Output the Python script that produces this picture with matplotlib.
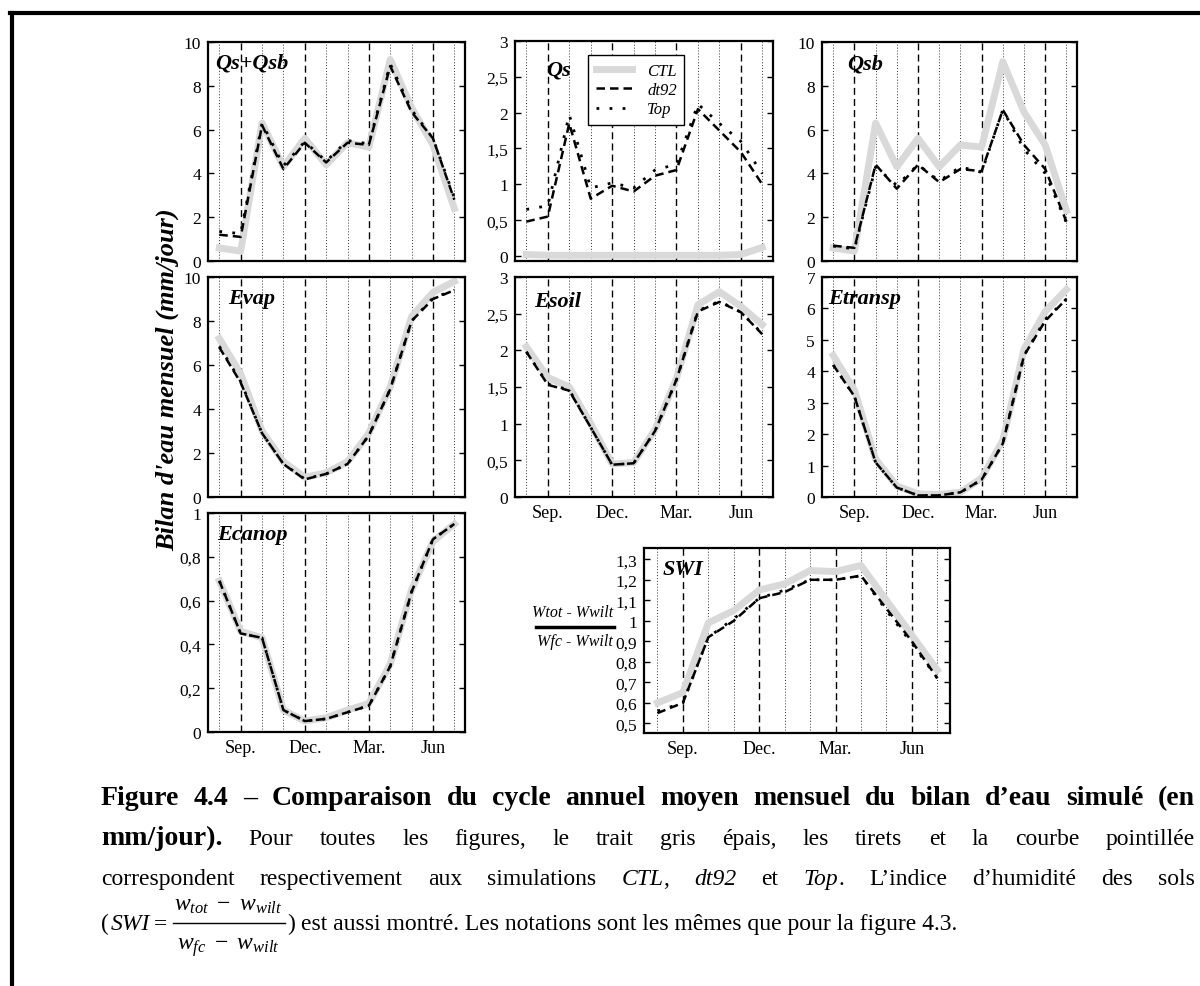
import numpy as np
import matplotlib
matplotlib.use('Agg')
import matplotlib.pyplot as plt
from matplotlib.lines import Line2D
from matplotlib.ticker import FuncFormatter

plt.rcParams['font.family'] = ['Liberation Serif', 'DejaVu Serif']
plt.rcParams['mathtext.fontset'] = 'custom'
plt.rcParams['mathtext.rm'] = 'Liberation Serif'
plt.rcParams['mathtext.it'] = 'Liberation Serif:italic'
plt.rcParams['mathtext.bf'] = 'Liberation Serif:bold'

# mois aout -> juillet
months = ['Aug', 'Sep', 'Oct', 'Nov', 'Dec', 'Jan', 'Feb', 'Mar', 'Apr', 'May', 'Jun', 'Jul']
quarter_pos = [1, 4, 7, 10]
quarter_labels = ['Sep.', 'Dec.', 'Mar.', 'Jun']

qsqsb_ctl = [0.6, 0.45, 6.3, 4.3, 5.6, 4.4, 5.4, 5.2, 9.2, 7.0, 5.3, 2.4]
qsqsb_dt92 = [1.2, 1.1, 6.2, 4.2, 5.4, 4.5, 5.4, 5.3, 8.9, 6.8, 5.6, 2.8]
qsqsb_top = [1.35, 1.25, 6.3, 4.35, 5.45, 4.55, 5.5, 5.35, 9.0, 6.9, 5.6, 2.9]

qs_ctl = [0.02, 0.01, 0.01, 0.01, 0.01, 0.01, 0.01, 0.01, 0.01, 0.01, 0.02, 0.12]
qs_dt92 = [0.48, 0.55, 1.85, 0.8, 0.98, 0.9, 1.12, 1.2, 2.05, 1.75, 1.45, 1.0]
qs_top = [0.65, 0.7, 1.97, 0.95, 1.02, 0.95, 1.2, 1.28, 2.12, 1.85, 1.6, 1.15]

qsb_ctl = [0.6, 0.45, 6.3, 4.3, 5.6, 4.3, 5.3, 5.2, 9.1, 6.8, 5.3, 2.3]
qsb_dt92 = [0.7, 0.6, 4.4, 3.3, 4.4, 3.6, 4.2, 4.1, 6.9, 5.3, 4.2, 1.8]
qsb_top = [0.68, 0.55, 4.3, 3.45, 4.4, 3.65, 4.3, 4.05, 6.9, 5.1, 4.0, 1.75]

evap_ctl = [7.2, 5.6, 3.0, 1.6, 0.9, 1.1, 1.6, 2.9, 5.0, 8.2, 9.3, 9.8]
evap_dt92 = [6.8, 5.2, 2.9, 1.5, 0.8, 1.05, 1.5, 2.8, 4.9, 8.0, 9.0, 9.4]
evap_top = [6.85, 5.25, 2.9, 1.5, 0.82, 1.05, 1.5, 2.8, 4.9, 8.0, 9.05, 9.4]

esoil_ctl = [2.05, 1.63, 1.5, 1.0, 0.45, 0.47, 0.92, 1.62, 2.62, 2.8, 2.6, 2.35]
esoil_dt92 = [1.98, 1.53, 1.45, 0.95, 0.44, 0.46, 0.9, 1.6, 2.53, 2.66, 2.52, 2.22]
esoil_top = [1.98, 1.54, 1.46, 0.95, 0.44, 0.46, 0.9, 1.6, 2.54, 2.67, 2.52, 2.23]

etransp_ctl = [4.5, 3.4, 1.2, 0.35, 0.1, 0.08, 0.15, 0.6, 1.8, 4.7, 5.9, 6.6]
etransp_dt92 = [4.2, 3.2, 1.1, 0.3, 0.05, 0.05, 0.15, 0.55, 1.7, 4.5, 5.6, 6.3]
etransp_top = [4.2, 3.2, 1.1, 0.3, 0.05, 0.05, 0.15, 0.55, 1.7, 4.5, 5.65, 6.3]

ecanop_ctl = [0.69, 0.46, 0.43, 0.10, 0.05, 0.065, 0.10, 0.13, 0.31, 0.65, 0.87, 0.95]
ecanop_dt92 = [0.69, 0.45, 0.43, 0.10, 0.05, 0.06, 0.09, 0.12, 0.30, 0.64, 0.88, 0.95]
ecanop_top = [0.69, 0.45, 0.43, 0.10, 0.05, 0.06, 0.09, 0.12, 0.30, 0.64, 0.88, 0.95]

swi_ctl = [0.60, 0.65, 0.99, 1.05, 1.15, 1.18, 1.245, 1.24, 1.27, 1.10, 0.93, 0.76]
swi_dt92 = [0.55, 0.60, 0.92, 1.00, 1.11, 1.14, 1.20, 1.20, 1.22, 1.06, 0.90, 0.72]
swi_top = [0.56, 0.60, 0.92, 1.01, 1.11, 1.15, 1.20, 1.20, 1.22, 1.05, 0.89, 0.72]

W, H = 1200, 987
fig = plt.figure(figsize=(W / 100, H / 100), dpi=100)

x = np.arange(len(months))


def comma(v, pos):
    return ('%g' % round(v, 3)).replace('.', ',')


def panel(rect, name, lab_xy, ylim, yticks, ctl, dt92, top, xlabels=False):
    l, t, r, b = rect
    ax = fig.add_axes([l / W, 1 - b / H, (r - l) / W, (b - t) / H])
    for i in x:
        if i in quarter_pos:
            ax.axvline(i, color='k', lw=1.0, ls=(0, (5, 3)), zorder=1)
        else:
            ax.axvline(i, color='#333333', lw=0.7, ls=(0, (1, 2)), zorder=1)
    ax.plot(x, ctl, color='#d9d9d9', lw=5, zorder=2, label='CTL')
    ax.plot(x, dt92, color='k', lw=1.8, ls=(0, (3.4, 2.0)), zorder=3, label='dt92')
    ax.plot(x, top, color='k', lw=2.0, ls=(0, (1, 3.7)), zorder=4, label='Top')
    ax.set_xlim(-0.53, 11.5)
    ax.set_ylim(*ylim)
    ax.set_yticks(yticks)
    ax.yaxis.set_major_formatter(FuncFormatter(comma))
    ax.set_xticks(quarter_pos)
    if xlabels:
        ax.set_xticklabels(quarter_labels, fontsize=13)
    else:
        ax.set_xticklabels([])
    ax.tick_params(axis='x', length=0, pad=5)
    ax.tick_params(axis='y', direction='in', right=True, length=4, width=1,
                   labelsize=12.5, pad=5)
    for s in ax.spines.values():
        s.set_linewidth(1.6)
    ax.text(lab_xy[0], lab_xy[1], name, transform=ax.transAxes, fontsize=16,
            fontweight='bold', fontstyle='italic', va='center', ha='left', zorder=5)
    return ax


panel((208, 43, 465, 262), 'Qs+Qsb', (0.027, 0.905), (0, 10), np.arange(0, 11, 2),
      qsqsb_ctl, qsqsb_dt92, qsqsb_top)
ax_qs = panel((515, 42, 773, 262), 'Qs', (0.12, 0.87), (-0.07, 3), np.arange(0, 3.01, 0.5),
              qs_ctl, qs_dt92, qs_top)
panel((822, 43, 1077, 262), 'Qsb', (0.10, 0.9), (0, 10), np.arange(0, 11, 2),
      qsb_ctl, qsb_dt92, qsb_top)
panel((208, 278, 465, 498), 'Evap', (0.078, 0.905), (0, 10), np.arange(0, 11, 2),
      evap_ctl, evap_dt92, evap_top)
panel((515, 278, 773, 498), 'Esoil', (0.074, 0.89), (0, 3), np.arange(0, 3.01, 0.5),
      esoil_ctl, esoil_dt92, esoil_top, xlabels=True)
panel((822, 278, 1077, 498), 'Etransp', (0.024, 0.905), (0, 7), np.arange(0, 8, 1),
      etransp_ctl, etransp_dt92, etransp_top, xlabels=True)
panel((208, 514, 465, 733), 'Ecanop', (0.035, 0.905), (0, 1), np.arange(0, 1.01, 0.2),
      ecanop_ctl, ecanop_dt92, ecanop_top, xlabels=True)
panel((644, 549, 950, 734), 'SWI', (0.062, 0.886), (0.453, 1.355), np.arange(0.5, 1.31, 0.1),
      swi_ctl, swi_dt92, swi_top, xlabels=True)

leg = ax_qs.legend(loc='upper left', bbox_to_anchor=(0.283, 0.935), borderaxespad=0,
                   fancybox=False, edgecolor='k', framealpha=1,
                   prop={'style': 'italic', 'size': 12}, handlelength=2.2,
                   borderpad=0.45, labelspacing=0.2, handletextpad=0.9)
leg.get_frame().set_linewidth(1.0)

fig.text(168 / W, 1 - 380 / H, "Bilan d'eau mensuel (mm/jour)", rotation=90,
         fontsize=19, fontweight='bold', fontstyle='italic', ha='center', va='center')

# fraction SWI
fig.text(613 / W, 1 - 613 / H, 'Wtot - Wwilt', fontsize=11.5, fontstyle='italic',
         ha='right', va='center')
fig.text(613 / W, 1 - 642 / H, 'Wfc - Wwilt', fontsize=11.5, fontstyle='italic',
         ha='right', va='center')
fig.add_artist(Line2D([536 / W, 614 / W], [1 - 628 / H] * 2, color='k', lw=2.5))

# cadre
fig.add_artist(Line2D([12 / W, 12 / W], [0, 1 - 14 / H], color='k', lw=3))
fig.add_artist(Line2D([10 / W, 1], [1 - 14 / H] * 2, color='k', lw=3))

# legende texte
renderer = fig.canvas.get_renderer()
X0, X1 = 101, 1195
CAP = 17
CAP_B = 20


def put(txt, xx, y, st='n', size=None, ha='left'):
    if size is None:
        size = CAP_B if st == 'b' else CAP
    t = fig.text(xx / W, 1 - y / H, txt, fontsize=size, va='baseline', ha=ha,
                 fontweight='bold' if st == 'b' else 'normal',
                 fontstyle='italic' if st == 'i' else 'normal')
    return t, t.get_window_extent(renderer).width


def caption_line(words, y):
    items = []
    for w in words:
        items.append([put(txt, 0, y, st) for txt, st in w])
    widths = [sum(p[1] for p in pcs) for pcs in items]
    gap = (X1 - X0 - sum(widths)) / (len(items) - 1)
    xx = X0
    for pcs in items:
        for t, wd in pcs:
            t.set_x(xx / W)
            xx += wd
        xx += gap


def simple(s, st='n'):
    return [[(w, st)] for w in s.split()]


caption_line(simple('Figure 4.4 – Comparaison du cycle annuel moyen mensuel du bilan d’eau simulé (en', 'b'), 805)
caption_line([[('mm/jour).', 'b')]] +
             simple('Pour toutes les figures, le trait gris épais, les tirets et la courbe pointillée'), 845)
caption_line(simple('correspondent respectivement aux simulations') +
             [[('CTL', 'i'), (',', 'n')], [('dt92', 'i')], [('et', 'n')], [('Top', 'i'), ('.', 'n')]] +
             simple('L’indice d’humidité des sols'), 885)

# derniere ligne avec la fraction SWI
y4 = 930
xx = X0
_, w = put('(', xx, y4)
xx += w + 2
_, w = put('SWI', xx, y4, 'i')
xx += w + 4
_, w = put('=', xx, y4)
xx += w + 5
tn, wn = put(r'$w_{tot}\ -\ w_{wilt}$', 0, y4 - 19, size=CAP)
td, wdn = put(r'$w_{fc}\ -\ w_{wilt}$', 0, y4 + 20, size=CAP)
fw = max(wn, wdn) + 4
tn.set_x((xx + (fw - wn) / 2) / W)
td.set_x((xx + (fw - wdn) / 2) / W)
fig.add_artist(Line2D([xx / W, (xx + fw) / W], [1 - (y4 - 6) / H] * 2, color='k', lw=1.0))
xx += fw + 3
_, w = put(')', xx, y4)
xx += w + 5
put('est aussi montré. Les notations sont les mêmes que pour la figure 4.3.', xx, y4)

fig.savefig('out.png', dpi=100)
